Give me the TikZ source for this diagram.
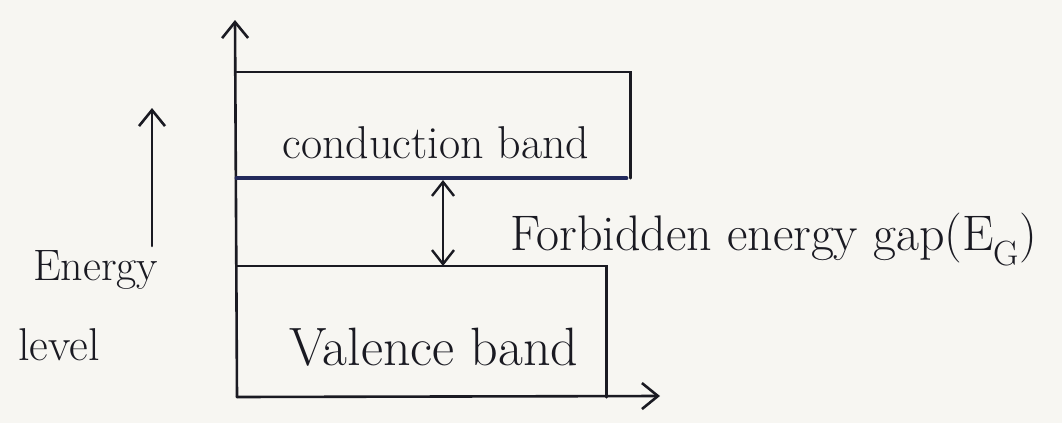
\documentclass[tikz,border=0pt]{standalone}
\usepackage{fontspec}
\setmainfont{Latin Modern Roman}
\usetikzlibrary{arrows.meta}
\definecolor{paper}{HTML}{F7F6F2}
\definecolor{ink}{HTML}{1A1A22}
\definecolor{blueink}{HTML}{232A5C}
\tikzset{
  line/.style={draw=ink, line width=2.6pt, line cap=round},
  blueline/.style={draw=blueink, line width=4.5pt, line cap=round},
  head/.style={-{Straight Barb[length=16pt,width=26pt,line width=2.6pt]}},
  heads/.style={{Straight Barb[length=14pt,width=22pt,line width=2.4pt]}-{Straight Barb[length=14pt,width=22pt,line width=2.4pt]}},
  lbl/.style={text=ink, font=\fontsize{46}{50}\selectfont, inner sep=0pt},
  glbl/.style={text=ink, font=\fontsize{50}{54}\selectfont, inner sep=0pt},
  elbl/.style={text=ink, font=\fontsize{44}{48}\selectfont, inner sep=0pt},
  band/.style={draw=none, inner sep=0pt},
}
\begin{document}
\begin{tikzpicture}[x=1pt,y=-1pt]
\fill[paper] (0,0) rectangle (1062,423);
\useasboundingbox (0,0) rectangle (1062,423);
% axes
\coordinate (O) at (237,397);
\coordinate (ytip) at (235,20);
\coordinate (xtip) at (660,396);
\draw[line,head] (O) -- (ytip);
\draw[line,head] (O) -- (xtip);
% conduction band
\node[band, minimum width=393pt, minimum height=106pt] (cb) at (433.5,125) {};
\draw[line] (cb.north west) -- (cb.north east) -- (cb.south east);
\draw[blueline] (cb.south west) -- ([xshift=-4pt]cb.south east);
\node[lbl, anchor=base] (cbt) at (436,158) {conduction band};
% valence band
\node[band, minimum width=369pt, minimum height=131pt] (vb) at (421.5,331.5) {};
\draw[line] (vb.north west) -- (vb.north east) -- (vb.south east);
\node[lbl, font=\fontsize{54}{58}\selectfont, anchor=base] (vbt) at (434,365) {Valence band};
% gap arrow
\coordinate (gtop) at (443,180);
\coordinate (gbot) at (443,266);
\draw[line,heads] (gtop) -- (gbot);
\node[glbl, anchor=base west] (gap) at (510,250) {Forbidden energy gap(E\textsubscript{G})};
% energy level arrow
\coordinate (eb) at (152,246);
\coordinate (et) at (152,108);
\draw[line,head] (eb) -- (et);
\node[elbl, anchor=base west] (en) at (33,280) {Energy};
\node[elbl, font=\fontsize{46}{50}\selectfont, anchor=base west] (lv) at (18,360) {level};
\end{tikzpicture}
\end{document}
